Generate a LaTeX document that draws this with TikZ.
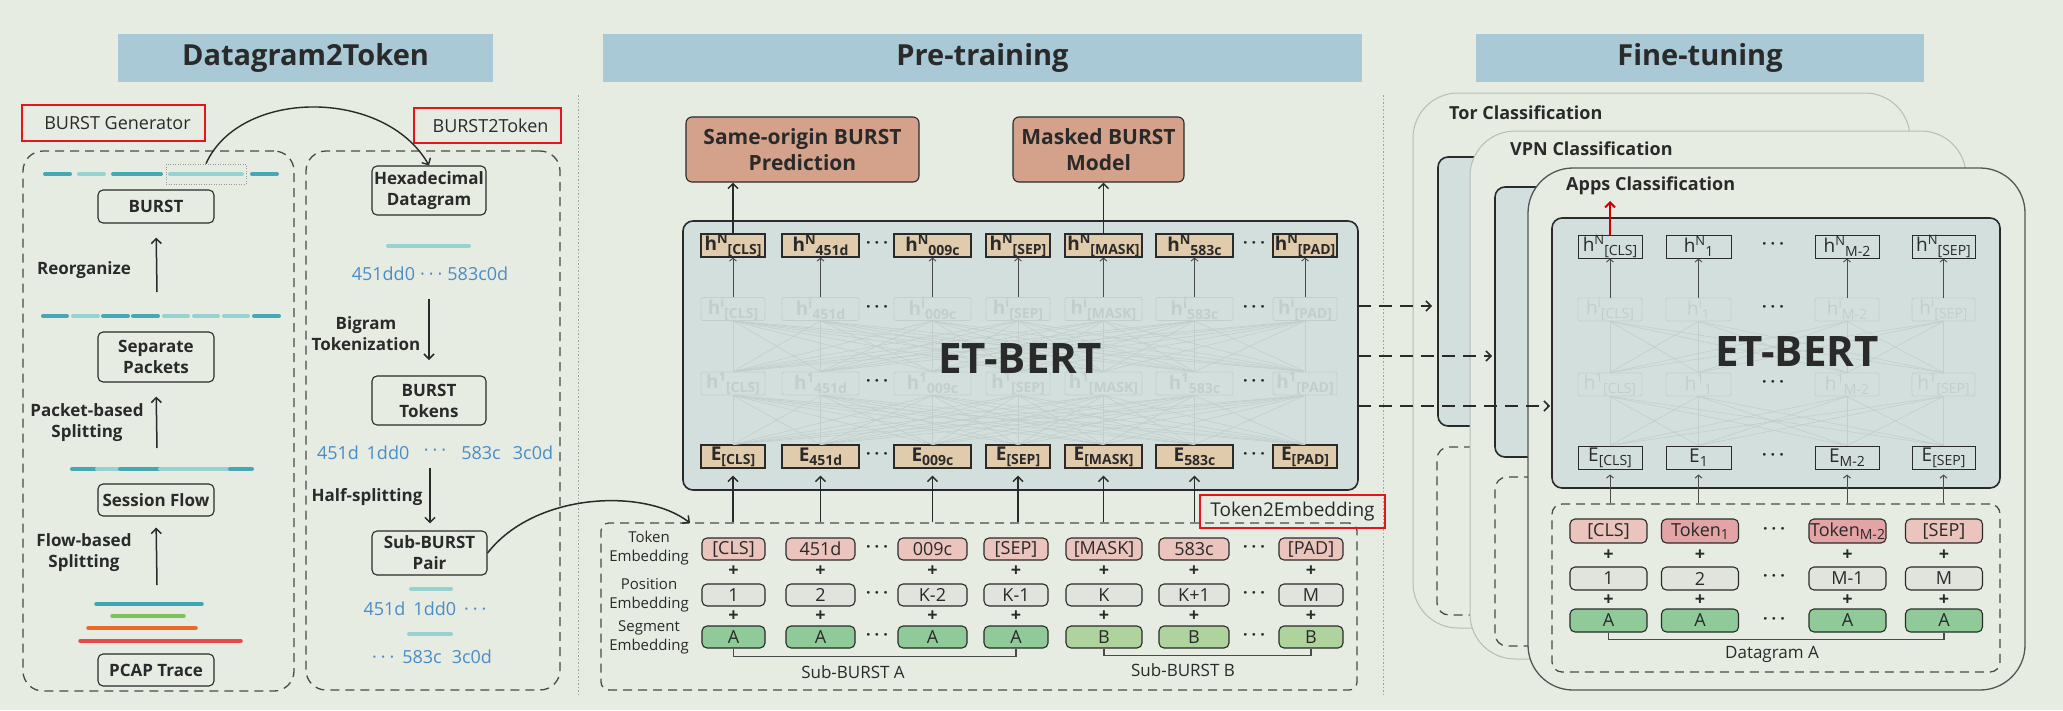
\documentclass[tikz,border=0pt]{standalone}
\usepackage{fontspec}
\setmainfont{Open Sans}
\usetikzlibrary{arrows.meta}
\definecolor{bg}{HTML}{E7ECE3}
\definecolor{hdr}{HTML}{A8C9D5}
\definecolor{dk}{HTML}{2A2A2A}
\definecolor{tealD}{HTML}{45A8B2}
\definecolor{tealL}{HTML}{98D2D0}
\definecolor{hexblue}{HTML}{4A8CC6}
\definecolor{salmon}{HTML}{D4A28A}
\definecolor{etfill}{HTML}{D2DFDD}
\definecolor{tanc}{HTML}{E0CCAC}
\definecolor{pinkL}{HTML}{EBC5BD}
\definecolor{pinkD}{HTML}{E4A4A5}
\definecolor{posg}{HTML}{E1E4DD}
\definecolor{segA}{HTML}{8FCA98}
\definecolor{segB}{HTML}{AFD39C}
\definecolor{redbx}{HTML}{E8141C}
\definecolor{faint}{HTML}{C3CECB}
\definecolor{fl1}{HTML}{3EA7B4}
\definecolor{fl2}{HTML}{7DC15B}
\definecolor{fl3}{HTML}{EA6A2C}
\definecolor{fl4}{HTML}{E84B4D}
\definecolor{pgray}{HTML}{B7BCB7}
\newcommand\fs[2]{\fontsize{#1}{#2}\selectfont}
\newcommand\sups[1]{\raisebox{0.36em}{\fs{13}{13}#1}}
\newcommand\subs[1]{\raisebox{-0.2em}{\fs{14}{14}#1}}
\newcommand\dd{·\hspace{4pt}·\hspace{4pt}·}
\newcommand\bx[7]{\node[#6, minimum width={(#4-#2)*1pt}, minimum height={(#5-#3)*1pt}] (#1) at ({(#2+#4)/2},{(#3+#5)/2}) {#7};}
\tikzset{
 hdrnode/.style={fill=hdr, inner sep=0, font=\bfseries\fs{29}{34}, text=dk},
 redbox/.style={draw=redbx, line width=2.6pt, inner sep=0, font=\fs{18}{20}, text=dk},
 lbox/.style={draw=dk, line width=1.1pt, rounded corners=5pt, inner sep=0, align=center, font=\bfseries\fs{17}{21}, text=dk},
 lbl/.style={inner sep=0, align=center, font=\bfseries\fs{17}{21}, text=dk},
 dbox/.style={draw=dk!85, line width=1.3pt, dash pattern=on 9pt off 6pt, rounded corners=20pt, inner sep=0},
 arr/.style={draw=dk, line width=1.5pt, -{Straight Barb[length=5pt,width=10pt]}},
 thinarr/.style={draw=dk!85, line width=0.9pt, -{Straight Barb[length=3pt,width=7pt]}},
 darr/.style={draw=dk, line width=1.6pt, dash pattern=on 13pt off 8pt, -{Straight Barb[length=5pt,width=10pt]}},
 hex/.style={inner sep=0, text=hexblue, font=\fs{18}{20}},
 segd/.style={draw=tealD, line width=4pt, line cap=round},
 segl/.style={draw=tealL, line width=4pt, line cap=round},
 flow/.style={line width=3.5pt, line cap=round},
 sepline/.style={draw=gray!75, line width=1pt, dash pattern=on 1.5pt off 2pt},
 task/.style={draw=dk, line width=1.1pt, rounded corners=6pt, fill=salmon, inner sep=0, align=center, font=\bfseries\fs{21}{26}, text=dk},
 etbox/.style={draw=dk, line width=1.6pt, rounded corners=10pt, fill=etfill, inner sep=0},
 hn/.style={draw=dk, line width=1.1pt, fill=tanc, inner sep=0, font=\bfseries\fs{19}{19}, text=dk, minimum height=23pt},
 hf/.style={draw=dk, line width=1.0pt, inner sep=0, font=\fs{19}{19}, text=dk, minimum height=23pt},
 fnt/.style={draw=faint, line width=0.8pt, rounded corners=2pt, inner sep=0, font=\bfseries\fs{19}{19}, text=faint, minimum height=23pt},
 fntn/.style={draw=faint, line width=0.8pt, rounded corners=2pt, inner sep=0, font=\fs{19}{19}, text=faint, minimum height=23pt},
 net/.style={draw=faint, line width=0.6pt},
 emb/.style={draw=dk, line width=1.1pt, rounded corners=5pt, inner sep=0, font=\fs{18}{18}, text=dk, minimum height=22pt},
 plus/.style={inner sep=0, font=\bfseries\fs{18}{18}, text=dk},
 dots/.style={inner sep=0, font=\bfseries\fs{16}{16}, text=dk},
 elbl/.style={inner sep=0, align=center, font=\fs{15}{19}, text=dk},
 brk/.style={draw=dk!85, line width=1.1pt},
 panel/.style={draw=pgray, line width=1pt, rounded corners=45pt, fill=bg, inner sep=0},
 ptitle/.style={inner sep=0, anchor=west, font=\bfseries\fs{18}{18}, text=dk},
 bigt/.style={inner sep=0, font=\bfseries\fs{42}{42}, text=dk}
}
\begin{document}
\begin{tikzpicture}[x=1pt,y=-1pt]
\useasboundingbox[fill=bg] (0,0) rectangle (2063,710);
% headers
\bx{hA}{118}{34}{493}{82}{hdrnode}{Datagram2Token}
\bx{hB}{603}{34}{1362}{82}{hdrnode}{Pre-training}
\bx{hC}{1476}{34}{1924}{82}{hdrnode}{Fine-tuning}
% separators
\coordinate (s1a) at (578,95); \coordinate (s1b) at (578,695);
\coordinate (s2a) at (1383,95); \coordinate (s2b) at (1383,695);
\draw[sepline] (s1a) -- (s1b);
\draw[sepline] (s2a) -- (s2b);

% ---------- BURST Generator ----------
\bx{genbox}{23}{151}{294}{691}{dbox}{}
\bx{genred}{22}{105}{205}{141}{redbox}{\hspace{8pt}BURST Generator}
\draw[segd] (45,174) -- (70,174);
\draw[segl] (79,174) -- (104,174);
\draw[segd] (113,174) -- (161,174);
\draw[segl] (170,174) -- (242,174);
\draw[segd] (252,174) -- (277,174);
\bx{sel}{166}{164}{246}{184}{draw=gray!80, line width=0.7pt, dash pattern=on 1pt off 1.5pt, inner sep=0}{}
\bx{burst}{98}{190}{214}{223}{lbox}{BURST}
\coordinate (r1) at (157,292);
\draw[arr, shorten >=14pt] (r1) -- (burst.south);
\node[lbl] (reorg) at (84,270) {Reorganize};
\foreach \a/\b/\c in {43/67/segd,73/98/segl,103/128/segd,133/158/segd,164/188/segl,194/218/segl,224/248/segl,254/279/segd}
  \draw[\c] (\a,316) -- (\b,316);
\bx{sepp}{98}{332}{214}{382}{lbox}{Separate\\Packets}
\coordinate (r2) at (157,448);
\draw[arr, shorten >=14pt] (r2) -- (sepp.south);
\node[lbl] (pbs) at (87,423) {Packet-based\\Splitting};
\draw[segd] (72,469) -- (97,469);
\draw[segl] (97,469) -- (120,469);
\draw[segd] (120,469) -- (160,469);
\draw[segl] (160,469) -- (230,469);
\draw[segd] (230,469) -- (252,469);
\bx{sess}{98}{484}{214}{516}{lbox}{Session Flow}
\coordinate (r3) at (157,585);
\draw[arr, shorten >=11pt] (r3) -- (sess.south);
\node[lbl] (fbs) at (84,553) {Flow-based\\Splitting};
\draw[flow, draw=fl1] (96,604) -- (202,604);
\draw[flow, draw=fl2] (112,616) -- (184,616);
\draw[flow, draw=fl3] (88,628) -- (196,628);
\draw[flow, draw=fl4] (80,641) -- (241,641);
\bx{pcap}{98}{654}{214}{686}{lbox}{PCAP Trace}

% ---------- BURST2Token ----------
\bx{tokbox}{306}{151}{560}{690}{dbox}{}
\bx{tokred}{414}{108}{561}{143}{redbox}{\hspace{6pt}BURST2Token}
\bx{hexd}{372}{166}{486}{215}{lbox}{Hexadecimal\\Datagram}
\draw[arr, line width=1.4pt] (sel.north) .. controls (240,88) and (385,88) .. (hexd.north);
\draw[segl] (388,246) -- (469,246);
\node[hex] (hx) at (430,274) {451dd0\hspace{5pt}\dd\hspace{5pt}583c0d};
\coordinate (r4) at (429,299);
\draw[arr] (r4) -- ++(0,61) coordinate (r4e);
\node[lbl] (bigr) at (366,334) {Bigram\\Tokenization};
\bx{btok}{372}{376}{486}{425}{lbox}{BURST\\Tokens}
\node[hex] (t1) at (338,453) {451d};
\node[hex] (t2) at (388,453) {1dd0};
\node[hex] (t3) at (435,453) {\dd};
\node[hex] (t4) at (481,453) {583c};
\node[hex] (t5) at (533,453) {3c0d};
\bx{subp}{372}{531}{487}{575}{lbox}{Sub-BURST\\Pair}
\coordinate (r5) at (430,468);
\draw[arr, shorten >=7pt] (r5) -- (subp.north -| r5);
\node[lbl] (halfs) at (367,497) {Half-splitting};
\draw[segl] (411,589) -- (451,589);
\node[hex] (sa) at (425,609) {451d\hspace{8pt}1dd0\hspace{8pt}\dd};
\draw[segl] (409,634) -- (451,634);
\node[hex] (sb) at (432,657) {\dd\hspace{8pt}583c\hspace{10pt}3c0d};

% ---------- Pre-training ----------
\bx{same}{686}{117}{919}{182}{task}{Same-origin BURST\\Prediction}
\bx{mlm}{1013}{117}{1184}{182}{task}{Masked BURST\\Model}
\bx{etp}{683}{221}{1358}{490}{etbox}{}
\foreach \n/\x/\w/\t in {cls/733/64/{[CLS]}, a/820.5/77/451d, b/932.5/77/009c, sep/1018/64/{[SEP]}, mask/1103.5/77/{[MASK]}, c/1194.5/77/583c, pad/1305/64/{[PAD]}} {
  \node[hn, minimum width={\w*1pt}] (hN\n) at (\x,245.5) {h\sups{N}\subs{\t}};
  \node[fnt, minimum width={\w*1pt}] (hi\n) at (\x,309) {h\sups{i}\subs{\t}};
  \node[fnt, minimum width={\w*1pt}] (hone\n) at (\x,383.5) {h\sups{1}\subs{\t}};
  \node[hn, minimum width={\w*1pt}] (E\n) at (\x,456.5) {E\subs{\t}};
  \draw[thinarr] (hi\n.north) -- (hN\n.south);
  \draw[net] (hone\n.north) -- (hi\n.south);
}
\foreach \a in {cls,a,b,sep,mask,c,pad} \foreach \b in {cls,a,b,sep,mask,c,pad} {
  \draw[net] (E\a.north) -- (hone\b.south);
  \draw[net] (hone\a.north) -- (hi\b.south);
}
\foreach \y/\k in {245.5/1,309/2,383.5/3,456.5/4} {
  \node[dots] (dpa\k) at (877,\y) {\dd};
  \node[dots] (dpb\k) at (1254,\y) {\dd};
}
\node[bigt] (etpt) at (1020,358) {ET-BERT};
\draw[arr] (hNcls.north) -- (same.south -| hNcls.north);
\draw[arr] (hNmask.north) -- (mlm.south -| hNmask.north);

% embeddings
\bx{emb}{601}{523}{1357}{690}{dbox, rounded corners=8pt}{}
\bx{t2e}{1200}{495}{1385}{528}{redbox, font=\fs{19}{20}}{Token2Embedding}
\node[elbl] (le1) at (649,548) {Token\\Embedding};
\node[elbl] (le2) at (649,595) {Position\\Embedding};
\node[elbl] (le3) at (649,637) {Segment\\Embedding};
\foreach \n/\x/\w/\t/\p/\s/\sc in {cls/733.5/63/{[CLS]}/1/A/segA, a/820.5/69/451d/2/A/segA, b/932.5/69/009c/K-2/A/segA, sep/1016/64/{[SEP]}/K-1/A/segA, mask/1104/76/{[MASK]}/K/B/segB, c/1194/70/583c/K+1/B/segB, pad/1311/64/{[PAD]}/M/B/segB} {
  \node[emb, fill=pinkL, minimum width={\w*1pt}] (tk\n) at (\x,549) {\t};
  \node[plus] (pa\n) at (\x,571) {+};
  \node[emb, fill=posg, minimum width={\w*1pt}] (ps\n) at (\x,595) {\p};
  \node[plus] (pb\n) at (\x,616) {+};
  \node[emb, fill=\sc, minimum width={\w*1pt}] (sg\n) at (\x,637) {\s};
}
\foreach \y/\k in {549/1,595/2,637/3}
  \node[dots] (dpc\k) at (877,\y) {\dd};
\foreach \y/\k in {549/1,595/2,637/3}
  \node[dots] (dpd\k) at (1254,\y) {\dd};
\foreach \n in {cls,a,b,sep,mask,c}
  \draw[arr, shorten >=7pt] (emb.north -| E\n.south) -- (E\n.south);
\draw[brk] (sgcls.south) -- ++(0,8) -| (sgsep.south);
\draw[brk] (sgmask.south) -- ++(0,7) -| (sgpad.south);
\node[elbl, font=\fs{17}{17}] (subA) at (853,672) {Sub-BURST A};
\node[elbl, font=\fs{17}{17}] (subB) at (1183,670) {Sub-BURST B};
\coordinate (cEmb) at (690,523);
\draw[arr] (subp.east) .. controls (535,492) and (645,488) .. (cEmb);

% ---------- Fine-tuning ----------
\bx{torP}{1413}{93}{1910}{628}{panel}{}
\node[ptitle] (torT) at (1449,113) {Tor Classification};
\bx{torE}{1438}{157}{1890}{426}{etbox}{}
\bx{torD}{1437}{447}{1890}{615}{dbox, rounded corners=12pt}{}
\bx{vpnP}{1470}{131}{1966}{659}{panel}{}
\node[ptitle] (vpnT) at (1510,149) {VPN Classification};
\bx{vpnE}{1495}{187}{1950}{457}{etbox}{}
\bx{vpnD}{1495}{477}{1950}{646}{dbox, rounded corners=12pt}{}
\bx{appP}{1528}{168}{2025}{690}{panel, draw=dk!80, line width=1.3pt}{}
\node[ptitle] (appT) at (1566,186) {Apps Classification};
\bx{appE}{1552}{218}{2000}{488}{etbox}{}
\foreach \n/\x/\w/\t in {cls/1610/64/{[CLS]}, one/1698.5/65/1, m/1847/64/M-2, sep/1943.5/63/{[SEP]}} {
  \node[hf, minimum width={\w*1pt}] (fN\n) at (\x,246.5) {h\sups{N}\subs{\t}};
  \node[fntn, minimum width={\w*1pt}] (fi\n) at (\x,309.5) {h\sups{i}\subs{\t}};
  \node[fntn, minimum width={\w*1pt}] (fone\n) at (\x,384.5) {h\sups{1}\subs{\t}};
  \node[hf, minimum width={\w*1pt}] (fE\n) at (\x,457.5) {E\subs{\t}};
  \draw[thinarr] (fi\n.north) -- (fN\n.south);
  \draw[net] (fone\n.north) -- (fi\n.south);
}
\foreach \a in {cls,one,m,sep} \foreach \b in {cls,one,m,sep} {
  \draw[net] (fE\a.north) -- (fone\b.south);
  \draw[net] (fone\a.north) -- (fi\b.south);
}
\foreach \y/\k in {246.5/1,309.5/2,384.5/3,457.5/4}
  \node[dots] (dfa\k) at (1773,\y) {\dd};
\node[bigt] (etft) at (1797,352) {ET-BERT};
\coordinate (redtip) at (1610,201);
\draw[draw=red!80!black, line width=2pt, -{Straight Barb[length=5pt,width=10pt]}] (fNcls.north) -- (fNcls.north |- redtip);
\bx{appD}{1552}{504}{2000}{672}{dbox, rounded corners=10pt}{}
\foreach \n/\x/\t/\tf/\p in {cls/1608.5/{[CLS]}/pinkL/1, one/1700/{Token\subs{1}}/pinkD/2, m/1847.5/{Token\subs{M-2}}/pinkD/M-1, sep/1944/{[SEP]}/pinkL/M} {
  \node[emb, fill=\tf, minimum width=77pt, minimum height=24pt] (ftk\n) at (\x,531) {\t};
  \node[plus] (fpa\n) at (\x,555) {+};
  \node[emb, fill=posg, minimum width=77pt, minimum height=23pt] (fps\n) at (\x,578.5) {\p};
  \node[plus] (fpb\n) at (\x,600) {+};
  \node[emb, fill=segA, minimum width=77pt, minimum height=23pt] (fsg\n) at (\x,620.5) {A};
}
\foreach \y/\k in {531/1,578.5/2,620.5/3}
  \node[dots] (dfb\k) at (1774,\y) {\dd};
\foreach \n in {cls,one,m,sep}
  \draw[thinarr, line width=1pt, shorten >=5pt] (appD.north -| fE\n.south) -- (fE\n.south);
\draw[brk] (fsgcls.south) -- ++(0,7) -| (fsgsep.south);
\node[elbl, font=\fs{17}{17}] (dgA) at (1772,654) {Datagram A};
% dashed transfer arrows
\coordinate (da1) at (1358,306); \coordinate (db1) at (1432,306);
\coordinate (da2) at (1358,356); \coordinate (db2) at (1492,356);
\coordinate (da3) at (1358,406); \coordinate (db3) at (1550,406);
\draw[darr] (da1) -- (db1);
\draw[darr] (da2) -- (db2);
\draw[darr] (da3) -- (db3);
\end{tikzpicture}
\end{document}
